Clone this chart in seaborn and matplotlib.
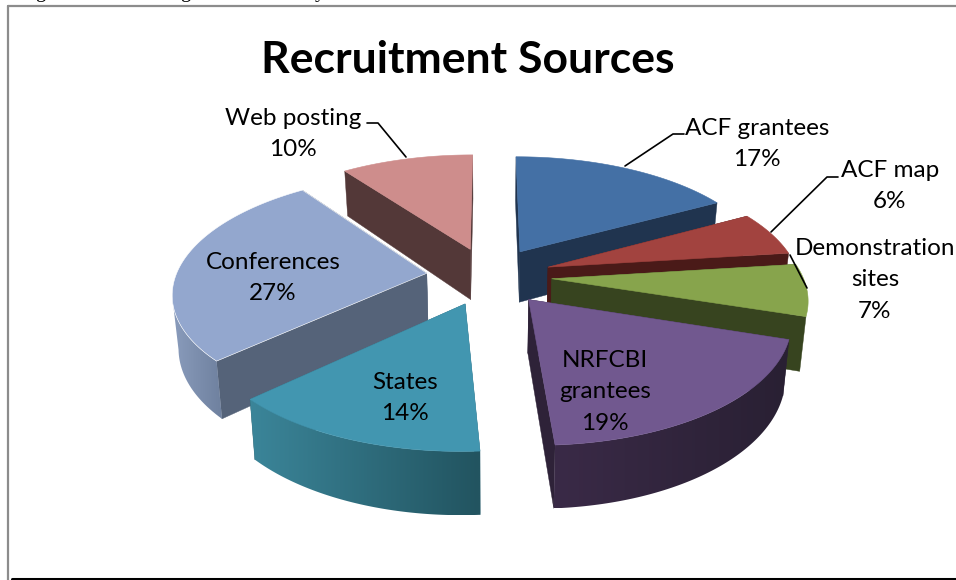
import numpy as np
import seaborn as sns
import matplotlib
matplotlib.use("Agg")
import matplotlib.pyplot as plt
from matplotlib.patches import Polygon

# valori
sources = ["ACF grantees", "ACF map", "Demonstration\nsites", "NRFCBI\ngrantees",
           "States", "Conferences", "Web posting"]
shares = [17, 6, 7, 19, 14, 27, 10]

top_colors = ["#4470A5", "#A2433F", "#87A44C", "#71588F", "#4296B0", "#93A7CE", "#CE8D8C"]
cut_colors = ["#20344F", "#4A1A18", "#37441F", "#2E2238", "#2C6070", "#556379", "#533838"]
wall_left = ["#20344F", "#4A1A18", "#37441F", "#3A2A47", "#3B8599", "#8A9CBC", "#533838"]
wall_right = ["#1C2E47", "#4A1A18", "#37441F", "#292033", "#225460", "#6F819F", "#533838"]

# posizione delle etichette (x, y in pixel)
label_pos = [(757, 144), (890, 186), (875, 280), (605, 392), (405, 398), (273, 278), (293, 134)]
leaders = [
    [(684, 134), (673, 134), (625, 166)],
    [(838, 177), (827, 177), (771, 232)],
    [(790, 255), (807, 288)],
    [(367, 123), (378, 123), (406, 157)],
]

# parametri della prospettiva
CX, CY = 489, 276
RX, RY = 251, 116
PERSP = 0.15
EXPLODE = 0.25
DEPTH = 52
SHRINK = 0.98
DRAW_ORDER = [6, 0, 1, 5, 2, 4, 3]


def proietta(x, y):
    w = 1 + PERSP * y
    return CX + RX * x / w, CY - RY * y / w


def abbassa(px, py, y):
    # stesso punto sul fondo della fetta
    w = 1 + PERSP * y
    return CX + (px - CX) * SHRINK, py + DEPTH / w


def i_z(i):
    return 2 + DRAW_ORDER.index(i)


def parete(ax, px, py, bx, by, i):
    # sfumatura ritagliata sulla sagoma della parete visibile
    sfumatura = np.array(sns.blend_palette([wall_left[i], wall_right[i]], 64))[None, :, :3]
    sagoma = Polygon(np.c_[np.r_[px, bx[::-1]], np.r_[py, by[::-1]]], closed=True,
                     transform=ax.transData, facecolor="none", edgecolor="none")
    ax.add_patch(sagoma)
    img = ax.imshow(sfumatura, extent=(min(px.min(), bx.min()), max(px.max(), bx.max()),
                                       max(py.max(), by.max()), min(py.min(), by.min())),
                    aspect="auto", interpolation="bilinear", zorder=i_z(i) + 0.1)
    img.set_clip_path(sagoma)


def fetta(ax, start, end, i):
    mid = np.radians((start + end) / 2)
    ox, oy = EXPLODE * np.sin(mid), EXPLODE * np.cos(mid)
    theta = np.radians(np.linspace(start, end, 80))
    ax_x = ox + np.sin(theta)
    ax_y = oy + np.cos(theta)
    px, py = proietta(ax_x, ax_y)
    bx, by = abbassa(px, py, ax_y)
    tx, ty = proietta(ox, oy)
    tbx, tby = abbassa(tx, ty, oy)

    # facce di taglio
    for j in (0, -1):
        ax.fill([tx, px[j], bx[j], tbx], [ty, py[j], by[j], tby],
                color=cut_colors[i], lw=0.3, zorder=i_z(i))

    # la parete si vede solo davanti, tra il punto piu' a destra e quello piu' a sinistra
    davanti = np.where(np.cos(theta) < 0.1)[0]
    if len(davanti) > 1:
        a = davanti[np.argmax(px[davanti])]
        b = davanti[np.argmin(px[davanti])]
        if a < b:
            parete(ax, px[a:b + 1], py[a:b + 1], bx[a:b + 1], by[a:b + 1], i)

    # faccia superiore
    bordo = "#FFFFFF" if i == 5 else top_colors[i]
    ax.fill(np.r_[tx, px], np.r_[ty, py], facecolor=top_colors[i], edgecolor=bordo,
            lw=0.4, zorder=i_z(i) + 0.2)


sns.set_theme(style="white")
plt.rcParams["font.family"] = ["Lato", "DejaVu Sans"]

fig = plt.figure(figsize=(9.56, 5.8), dpi=100)
ax = fig.add_axes([0, 0, 1, 1])
ax.axis("off")

# cornice del grafico
ax.plot([8.5, 8.5], [5.5, 580], color="#8C8C8C", lw=1.6, zorder=1)
ax.plot([8.5, 956], [5.5, 5.5], color="#8C8C8C", lw=1.6, zorder=1)
ax.plot([12, 956], [578.5, 578.5], color="black", lw=2.2, zorder=1)

# resti della riga di testo sopra il grafico
for ch, x in zip("ggy", (40, 185, 320)):
    ax.text(x, -3, ch, family="Liberation Serif", fontsize=15, ha="center",
            va="baseline", color="black", clip_on=False)

edges = np.cumsum([0] + shares) * 360 / sum(shares)
for i in range(len(shares)):
    fetta(ax, edges[i], edges[i + 1], i)

for name, share, (x, y) in zip(sources, shares, label_pos):
    ax.text(x, y, f"{name}\n{share}%", ha="center", va="center", fontsize=17.5,
            linespacing=1.64, color="black", zorder=20)

for pts in leaders:
    xs, ys = zip(*pts)
    ax.plot(xs, ys, color="black", lw=1.2, zorder=19)

ax.text(468, 60, "Recruitment Sources", ha="center", va="center", fontsize=32,
        fontweight="bold", color="black", zorder=20)

ax.set_xlim(0, 956)
ax.set_ylim(580, 0)

fig.savefig("out.png", dpi=100)
